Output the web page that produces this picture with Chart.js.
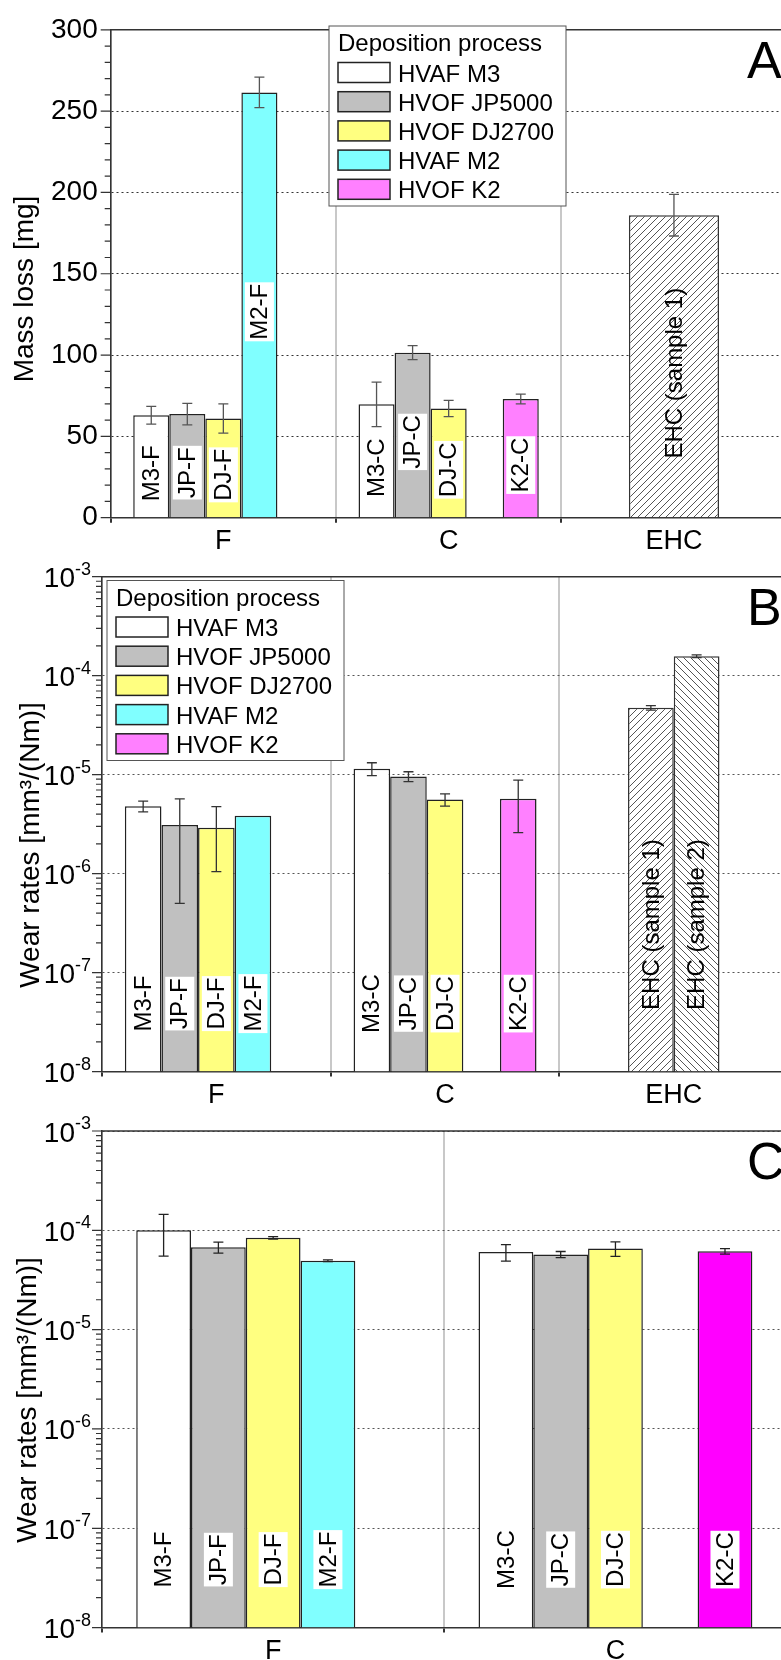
<!DOCTYPE html>
<html lang="en">
<head>
<meta charset="UTF-8">
<title>Mass loss and wear rates</title>
<script src="https://cdn.jsdelivr.net/npm/chart.js"></script>
<style>
    html, body { margin: 0; padding: 0; background: #fff; overflow: hidden; }
    .panel { position: relative; width: 790px; }
    #panelA { height: 555px; }
    #panelB { height: 555px; }
    #panelC { height: 550px; }
</style>
</head>
<body>
<div class="panel" id="panelA"><canvas id="chartA"></canvas></div>
<div class="panel" id="panelB"><canvas id="chartB"></canvas></div>
<div class="panel" id="panelC"><canvas id="chartC"></canvas></div>

<script>
// categories
const groupsAB = ['F', 'C', 'EHC'];
const groupsC = ['F', 'C'];
const processes = ['HVAF M3', 'HVOF JP5000', 'HVOF DJ2700', 'HVAF M2', 'HVOF K2'];
const codes = ['M3', 'JP', 'DJ', 'M2', 'K2'];

// tick values
const yTicksA = [0, 50, 100, 150, 200, 250, 300];
const yTicksLog = [1e-8, 1e-7, 1e-6, 1e-5, 1e-4, 1e-3];

// A: mass loss [mg] per group (F, C, EHC)
const massM3 = [63, 69.7, null];
const massJP = [63.7, 101.5, null];
const massDJ = [61, 67.2, null];
const massM2 = [261.5, null, null];
const massK2 = [null, 73, null];
const massEHC = [null, null, 186];
const massM3Err = [5.5, 13.7, null];
const massJPErr = [6.6, 4.3, null];
const massDJErr = [9, 5, null];
const massM2Err = [9.4, null, null];
const massK2Err = [null, 3, null];
const massEHCErr = [null, null, 12.8];

// B: wear rates [mm3/(Nm)] per group (F, C, EHC)
const wearBM3 = [4.8e-6, 1.15e-5, null];
const wearBJP = [3.1e-6, 9.6e-6, null];
const wearBDJ = [2.9e-6, 5.6e-6, null];
const wearBM2 = [3.85e-6, null, null];
const wearBK2 = [null, 5.7e-6, null];
const wearBEHC1 = [null, null, 4.73e-5];
const wearBEHC2 = [null, null, 1.57e-4];
const wearBM3Err = [0.6e-6, 1.7e-6, null];
const wearBJPErr = [2.6e-6, 1.1e-6, null];
const wearBDJErr = [1.85e-6, 0.8e-6, null];
const wearBM2Err = [null, null, null];
const wearBK2Err = [null, 3.1e-6, null];
const wearBEHC1Err = [null, null, 0.25e-5];
const wearBEHC2Err = [null, null, 0.05e-4];

// C: wear rates [mm3/(Nm)] per group (F, C)
const wearCM3 = [1.0e-4, 6.04e-5];
const wearCJP = [6.74e-5, 5.72e-5];
const wearCDJ = [8.4e-5, 6.56e-5];
const wearCM2 = [4.94e-5, null];
const wearCK2 = [null, 6.15e-5];
const wearCM3Err = [4.5e-5, 1.15e-5];
const wearCJPErr = [0.85e-5, 0.4e-5];
const wearCDJErr = [0.25e-5, 1.1e-5];
const wearCM2Err = [0.1e-5, null];
const wearCK2Err = [null, 0.4e-5];

const FONT = "'Liberation Sans', Arial, sans-serif";
const coloursAB = ['#ffffff', '#c0c0c0', '#ffff80', '#80ffff', '#ff80ff'];
const coloursC = ['#ffffff', '#c0c0c0', '#ffff80', '#80ffff', '#ff00ff'];

function hatch(canvasId, dir) {
    const s = 7;
    const c = document.createElement('canvas');
    c.width = s; c.height = s;
    const g = c.getContext('2d');
    g.fillStyle = '#fff';
    g.fillRect(0, 0, s, s);
    g.strokeStyle = '#555';
    g.lineWidth = 1;
    g.beginPath();
    if (dir === '/') {
        g.moveTo(0, s); g.lineTo(s, 0);
        g.moveTo(-1, 1); g.lineTo(1, -1);
        g.moveTo(s - 1, s + 1); g.lineTo(s + 1, s - 1);
    } else {
        g.moveTo(0, 0); g.lineTo(s, s);
        g.moveTo(-1, s - 1); g.lineTo(1, s + 1);
        g.moveTo(s - 1, -1); g.lineTo(s + 1, 1);
    }
    g.stroke();
    return document.getElementById(canvasId).getContext('2d').createPattern(c, 'repeat');
}

// one slot per process inside each group (stack key = process code)
function mainSets(values, errors, groups, colours) {
    return values.map((vals, i) => ({
        label: processes[i],
        data: vals,
        errors: errors[i],
        barLabels: vals.map((v, j) => v == null ? null : codes[i] + '-' + groups[j]),
        stack: codes[i],
        backgroundColor: colours[i],
        borderColor: '#222',
        borderWidth: 1.5,
        categoryPercentage: 0.8,
        barPercentage: 1,
        inLegend: true
    }));
}

// EHC bars share the wider EHC slot among themselves only (skipNull)
function ehcSet(label, vals, errs, pattern, slot) {
    return {
        label: label,
        data: vals,
        errors: errs,
        barLabels: vals.map(v => v == null ? null : label),
        stack: codes[slot],
        skipNull: true,
        backgroundColor: pattern,
        borderColor: '#333',
        borderWidth: 1.5,
        categoryPercentage: 0.4,
        barPercentage: 1,
        hatched: true
    };
}

// draws error bars, in-bar labels, legend box, frame, y ticks, titles
const decor = {
    id: 'decor',
    afterDatasetsDraw(chart) {
        const o = chart.options.plugins.decor;
        const ctx = chart.ctx;
        const ys = chart.scales.y;
        chart.data.datasets.forEach((ds, di) => {
            const meta = chart.getDatasetMeta(di);
            meta.data.forEach((bar, j) => {
                const v = ds.data[j];
                if (v == null) return;
                const text = ds.barLabels[j];
                let cy;
                if (o.labelMode === 'middle') cy = (bar.y + bar.base) / 2 + o.labelShift;
                else cy = bar.base - (ds.hatched ? o.labelLiftLong : o.labelLift);
                ctx.save();
                ctx.translate(bar.x, cy);
                ctx.rotate(-Math.PI / 2);
                ctx.font = '24px ' + FONT;
                const w = ctx.measureText(text).width;
                if (!ds.hatched) {
                    ctx.fillStyle = '#fff';
                    ctx.fillRect(-w / 2 - 1.5, -14.5, w + 3, 29);
                }
                ctx.fillStyle = '#000';
                ctx.textAlign = 'center';
                ctx.textBaseline = 'middle';
                ctx.fillText(text, 0, 1);
                ctx.restore();

                const e = ds.errors ? ds.errors[j] : null;
                if (e) {
                    const y1 = ys.getPixelForValue(v + e);
                    const y2 = ys.getPixelForValue(v - e);
                    ctx.save();
                    ctx.strokeStyle = o.errColour;
                    ctx.lineWidth = 1.3;
                    ctx.beginPath();
                    ctx.moveTo(bar.x, y1); ctx.lineTo(bar.x, y2);
                    ctx.moveTo(bar.x - 5, y1); ctx.lineTo(bar.x + 5, y1);
                    ctx.moveTo(bar.x - 5, y2); ctx.lineTo(bar.x + 5, y2);
                    ctx.stroke();
                    ctx.restore();
                }
            });
        });
    },
    afterDraw(chart) {
        const o = chart.options.plugins.decor;
        const ctx = chart.ctx;
        const area = chart.chartArea;
        const ys = chart.scales.y;
        ctx.save();

        // frame top line
        ctx.strokeStyle = '#333';
        ctx.lineWidth = 1.5;
        ctx.beginPath();
        ctx.moveTo(area.left, area.top);
        ctx.lineTo(area.right, area.top);
        ctx.stroke();

        // y tick marks
        const majors = o.log ? yTicksLog : yTicksA;
        const minors = [];
        if (o.log) {
            for (let i = 0; i < yTicksLog.length - 1; i++)
                for (let k = 2; k <= 9; k++) minors.push(yTicksLog[i] * k);
        } else {
            for (let v = 0; v <= 300; v += 10) if (v % 50) minors.push(v);
        }
        ctx.lineWidth = 1.2;
        ctx.beginPath();
        majors.forEach(v => {
            const p = ys.getPixelForValue(v);
            ctx.moveTo(area.left - 10, p); ctx.lineTo(area.left, p);
        });
        minors.forEach(v => {
            const p = ys.getPixelForValue(v);
            ctx.moveTo(area.left - 6, p); ctx.lineTo(area.left, p);
        });
        ctx.stroke();

        // log tick labels with superscript exponents
        if (o.log) {
            ctx.fillStyle = '#000';
            ctx.textAlign = 'right';
            ctx.textBaseline = 'alphabetic';
            yTicksLog.forEach(v => {
                const p = ys.getPixelForValue(v);
                const sup = String(Math.round(Math.log10(v)));
                ctx.font = '18px ' + FONT;
                const sw = ctx.measureText(sup).width;
                ctx.fillText(sup, area.left - 11, p - 2);
                ctx.font = '28px ' + FONT;
                ctx.fillText('10', area.left - 11 - sw, p + 10.5);
            });
        }

        // y title
        ctx.save();
        ctx.translate(o.yTitle.x, o.yTitle.y);
        ctx.rotate(-Math.PI / 2);
        ctx.font = '28px ' + FONT;
        ctx.fillStyle = '#000';
        ctx.textAlign = 'center';
        ctx.textBaseline = 'middle';
        ctx.fillText(o.yTitle.text, 0, 0);
        ctx.restore();

        // panel letter
        ctx.font = '52px ' + FONT;
        ctx.fillStyle = '#000';
        ctx.textAlign = 'left';
        ctx.textBaseline = 'alphabetic';
        ctx.fillText(o.letter, 747, area.top + 48);

        // legend
        if (o.legend) {
            const L = o.legend;
            ctx.fillStyle = '#fff';
            ctx.fillRect(L.x, L.y, L.w, L.h);
            ctx.strokeStyle = '#555';
            ctx.lineWidth = 1;
            ctx.strokeRect(L.x, L.y, L.w, L.h);
            ctx.font = '24px ' + FONT;
            ctx.fillStyle = '#000';
            ctx.textAlign = 'left';
            ctx.fillText(L.title, L.x + 9, L.y + 25);
            const items = chart.data.datasets.filter(ds => ds.inLegend);
            items.forEach((ds, i) => {
                const ty = L.y + 36.5 + 29.2 * i;
                ctx.fillStyle = ds.backgroundColor;
                ctx.fillRect(L.x + 9, ty, 52, 20);
                ctx.strokeStyle = '#222';
                ctx.lineWidth = 1.5;
                ctx.strokeRect(L.x + 9, ty, 52, 20);
                ctx.fillStyle = '#000';
                ctx.fillText(ds.label, L.x + 69, ty + 19);
            });
        }
        ctx.restore();
    }
};

function baseOptions(cfg) {
    return {
        responsive: true,
        maintainAspectRatio: false,
        animation: false,
        layout: { padding: { top: cfg.top, right: cfg.right, bottom: 0, left: 0 } },
        plugins: {
            legend: { display: false },
            tooltip: { enabled: false },
            decor: cfg.decor
        },
        scales: {
            x: {
                stacked: true,
                offset: true,
                grid: { offset: true, color: '#c8c8c8', lineWidth: 2, drawTicks: true, tickLength: 5, tickColor: '#333' },
                border: { color: '#333', width: 1.5 },
                ticks: { color: '#000', padding: 3, font: { family: FONT, size: 27 } },
                afterFit: s => { s.height = cfg.xHeight; }
            },
            y: cfg.y
        }
    };
}

// Panel A
new Chart(document.getElementById('chartA'), {
    type: 'bar',
    data: {
        labels: groupsAB,
        datasets: mainSets([massM3, massJP, massDJ, massM2, massK2],
            [massM3Err, massJPErr, massDJErr, massM2Err, massK2Err], groupsAB, coloursAB)
            .concat([ehcSet('EHC (sample 1)', massEHC, massEHCErr, hatch('chartA', '/'), 0)])
    },
    options: baseOptions({
        top: 20.7, right: 3.4, xHeight: 37.3,
        decor: {
            labelMode: 'middle', labelShift: 7, errColour: '#555', log: false, letter: 'A',
            yTitle: { text: 'Mass loss [mg]', x: 25.5, y: 289 },
            legend: { x: 329, y: 26, w: 237, h: 180, title: 'Deposition process' }
        },
        y: {
            stacked: false,
            min: 0, max: 300,
            afterBuildTicks: s => { s.ticks = yTicksA.map(v => ({ value: v })); },
            afterFit: s => { s.width = 110.7; },
            grid: { color: '#333', lineWidth: 1, drawTicks: false },
            border: { color: '#333', width: 1.5, dash: [2, 3] },
            ticks: { color: '#000', padding: 13, font: { family: FONT, size: 28 } }
        }
    }),
    plugins: [decor]
});

// Panel B
new Chart(document.getElementById('chartB'), {
    type: 'bar',
    data: {
        labels: groupsAB,
        datasets: mainSets([wearBM3, wearBJP, wearBDJ, wearBM2, wearBK2],
            [wearBM3Err, wearBJPErr, wearBDJErr, wearBM2Err, wearBK2Err], groupsAB, coloursAB)
            .concat([
                ehcSet('EHC (sample 1)', wearBEHC1, wearBEHC1Err, hatch('chartB', '/'), 0),
                ehcSet('EHC (sample 2)', wearBEHC2, wearBEHC2Err, hatch('chartB', '\\'), 1)
            ])
    },
    options: baseOptions({
        top: 21.7, right: 1.9, xHeight: 38.4,
        decor: {
            labelMode: 'bottom', labelLift: 68, labelLiftLong: 147, errColour: '#333', log: true, letter: 'B',
            yTitle: { text: 'Wear rates [mm³/(Nm)]', x: 31, y: 290 },
            legend: { x: 107, y: 25.5, w: 237, h: 180, title: 'Deposition process' }
        },
        y: {
            type: 'logarithmic',
            stacked: false,
            min: 1e-8, max: 1e-3,
            afterBuildTicks: s => { s.ticks = yTicksLog.map(v => ({ value: v })); },
            afterFit: s => { s.width = 102; },
            grid: { color: '#555', lineWidth: 1, drawTicks: false },
            border: { color: '#333', width: 1.5, dash: [2, 3] },
            ticks: { display: false }
        }
    }),
    plugins: [decor]
});

// Panel C
new Chart(document.getElementById('chartC'), {
    type: 'bar',
    data: {
        labels: groupsC,
        datasets: mainSets([wearCM3, wearCJP, wearCDJ, wearCM2, wearCK2],
            [wearCM3Err, wearCJPErr, wearCDJErr, wearCM2Err, wearCK2Err], groupsC, coloursC)
    },
    options: baseOptions({
        top: 21, right: 3.4, xHeight: 32.4,
        decor: {
            labelMode: 'bottom', labelLift: 68, labelLiftLong: 147, errColour: '#222', log: true, letter: 'C',
            yTitle: { text: 'Wear rates [mm³/(Nm)]', x: 28, y: 290 },
            legend: null
        },
        y: {
            type: 'logarithmic',
            stacked: false,
            min: 1e-8, max: 1e-3,
            afterBuildTicks: s => { s.ticks = yTicksLog.map(v => ({ value: v })); },
            afterFit: s => { s.width = 102; },
            grid: { color: '#555', lineWidth: 1, drawTicks: false },
            border: { color: '#333', width: 1.5, dash: [2, 3] },
            ticks: { display: false }
        }
    }),
    plugins: [decor]
});
</script>
</body>
</html>
